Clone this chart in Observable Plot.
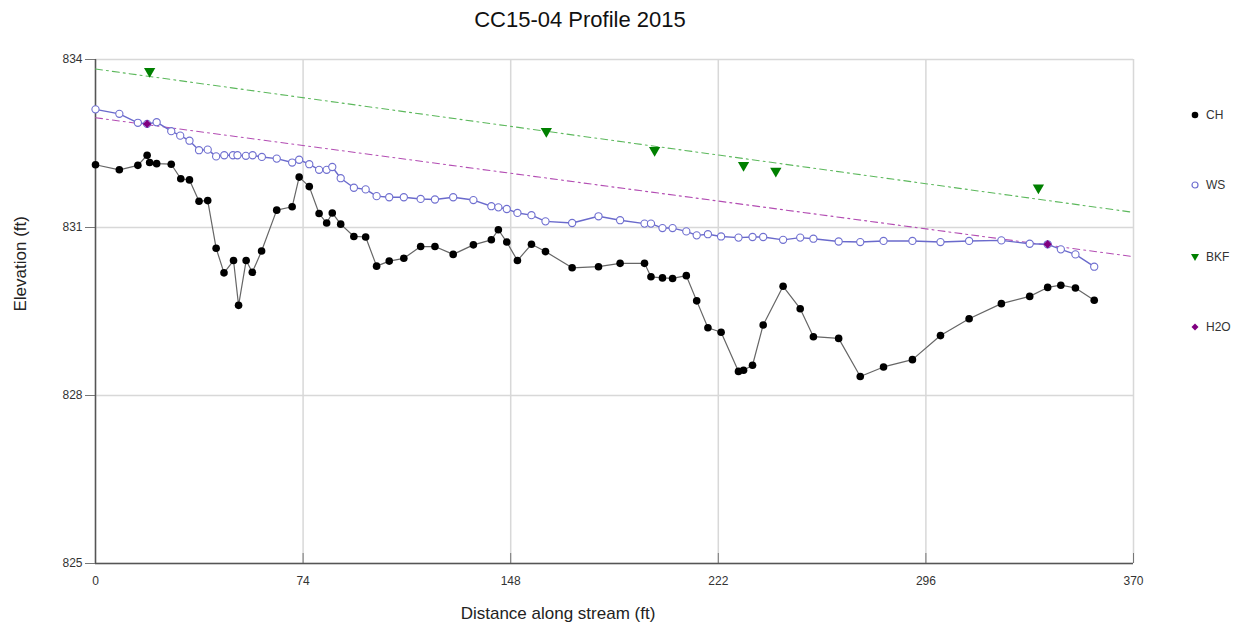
<!DOCTYPE html>
<html>
<head>
<meta charset="utf-8">
<script src="https://cdn.jsdelivr.net/npm/d3@7"></script>
<script src="https://cdn.jsdelivr.net/npm/@observablehq/plot@0.6"></script>
<style>
  body { margin: 0; background: #fff; font-family: "Liberation Sans", Arial, sans-serif; }
  #wrap { position: relative; width: 1235px; height: 629px; }
  #title { position: absolute; left: 0; top: 0; width: 1160px; height: 40px; line-height: 40px; text-align: center; font-size: 22px; color: #111; }
  #chart { position: absolute; left: 0; top: 40px; }
  #xlabel { position: absolute; left: 0; top: 600px; width: 1116px; line-height: 28px; text-align: center; font-size: 17px; color: #222; }
  .leg { position: absolute; left: 1190px; font-size: 12px; color: #333; display: flex; align-items: center; height: 14px; }
  .leg svg { margin-right: 6px; }
</style>
</head>
<body>
<div id="wrap">
  <div id="title">CC15-04 Profile 2015</div>
  <div id="chart"></div>
  <div id="xlabel">Distance along stream (ft)</div>
  <div class="leg" style="top:108px"><svg width="10" height="10"><circle cx="5" cy="5" r="3.3" fill="#000"/></svg>CH</div>
  <div class="leg" style="top:178px"><svg width="10" height="10"><circle cx="5" cy="5" r="3" fill="#fff" stroke="#7070d0" stroke-width="1.2"/></svg>WS</div>
  <div class="leg" style="top:250px"><svg width="10" height="10"><path d="M1,2 L9,2 L5,9 Z" fill="#008000"/></svg>BKF</div>
  <div class="leg" style="top:320px"><svg width="10" height="10"><path d="M5,1.5 L8.5,5 L5,8.5 L1.5,5 Z" fill="#800080"/></svg>H2O</div>
</div>
<script>
// Channel bed (CH)
const chX = [0, 8.5, 15.1, 18.4, 19.3, 21.8, 27.0, 30.4, 33.5, 36.9, 40.0, 43.0, 45.8, 49.2, 51.0, 53.7, 55.9, 59.2, 64.6, 70.1, 72.6, 76.2, 79.7, 82.4, 84.4, 87.4, 92.1, 96.3, 100.2, 104.7, 109.9, 115.9, 121.0, 127.5, 134.7, 141.1, 143.6, 146.6, 150.4, 155.4, 160.4, 169.9, 179.3, 187.0, 195.7, 198.0, 202.1, 205.7, 210.6, 214.3, 218.3, 223.0, 229.2, 231.0, 234.2, 238.0, 245.1, 251.2, 255.9, 264.9, 272.6, 280.9, 291.2, 301.2, 311.4, 322.9, 333.0, 339.4, 344.1, 349.3, 356.0];
const chY = [832.12, 832.03, 832.11, 832.29, 832.16, 832.14, 832.13, 831.87, 831.85, 831.47, 831.48, 830.63, 830.19, 830.41, 829.61, 830.41, 830.20, 830.58, 831.31, 831.37, 831.90, 831.73, 831.25, 831.08, 831.26, 831.06, 830.84, 830.83, 830.31, 830.40, 830.45, 830.66, 830.66, 830.52, 830.69, 830.78, 830.96, 830.74, 830.41, 830.70, 830.57, 830.28, 830.30, 830.36, 830.36, 830.12, 830.10, 830.09, 830.14, 829.69, 829.21, 829.13, 828.43, 828.45, 828.54, 829.26, 829.95, 829.55, 829.05, 829.02, 828.34, 828.51, 828.64, 829.07, 829.37, 829.64, 829.77, 829.93, 829.97, 829.92, 829.70];
// Water surface (WS)
const wsX = [0, 8.5, 15.1, 18.4, 21.8, 27.0, 30.2, 33.5, 36.9, 40.0, 43.0, 45.9, 49.0, 50.6, 53.6, 56.0, 59.3, 64.6, 70.1, 72.6, 76.2, 79.7, 82.4, 84.4, 87.4, 92.1, 96.3, 100.2, 104.7, 109.9, 115.9, 121.0, 127.5, 134.7, 141.1, 143.6, 146.6, 150.4, 155.4, 160.4, 169.9, 179.3, 187.0, 195.7, 198.0, 202.1, 205.7, 210.6, 214.3, 218.3, 223.0, 229.2, 234.2, 238.0, 245.1, 251.2, 255.9, 264.9, 272.6, 280.9, 291.2, 301.2, 311.4, 322.9, 333.0, 339.4, 344.1, 349.3, 356.0];
const wsY = [833.11, 833.03, 832.87, 832.85, 832.88, 832.72, 832.64, 832.55, 832.38, 832.39, 832.27, 832.29, 832.29, 832.29, 832.28, 832.29, 832.26, 832.23, 832.16, 832.21, 832.13, 832.03, 832.03, 832.08, 831.88, 831.71, 831.68, 831.56, 831.54, 831.54, 831.51, 831.50, 831.54, 831.49, 831.38, 831.36, 831.33, 831.26, 831.22, 831.11, 831.08, 831.20, 831.13, 831.07, 831.07, 830.99, 830.99, 830.93, 830.86, 830.88, 830.84, 830.82, 830.83, 830.83, 830.78, 830.82, 830.80, 830.75, 830.74, 830.76, 830.76, 830.74, 830.76, 830.77, 830.71, 830.70, 830.61, 830.52, 830.30];
// Bankfull (BKF)
const bkfX = [19.3, 160.7, 199.3, 231.0, 242.5, 336.1];
const bkfY = [833.79, 832.72, 832.38, 832.11, 832.01, 831.71];
const bkfFitX = [0, 370];
const bkfFitY = [833.83, 831.27];
// Water surface shots (H2O)
const h2oX = [18.4, 339.4];
const h2oY = [832.85, 830.70];
const h2oFitX = [0, 370];
const h2oFitY = [832.96, 830.48];
// Ticks
const xTicks = [0, 74, 148, 222, 296, 370];
const yTicks = [825, 828, 831, 834];

const toRows = (xs, ys) => xs.map((x, i) => ({x, y: ys[i]}));
const ch = toRows(chX, chY), ws = toRows(wsX, wsY), bkf = toRows(bkfX, bkfY), h2o = toRows(h2oX, h2oY);
const bkfFit = toRows(bkfFitX, bkfFitY), h2oFit = toRows(h2oFitX, h2oFitY);

const chart = Plot.plot({
  width: 1235,
  height: 560,
  marginLeft: 95,
  marginRight: 102,
  marginTop: 19,
  marginBottom: 37,
  style: {fontFamily: "Liberation Sans, Arial, sans-serif", fontSize: "12px", color: "#333", background: "#fff"},
  x: {domain: [0, 370]},
  y: {domain: [825, 834]},
  marks: [
    Plot.gridX(xTicks, {stroke: "#d8d8d8", strokeOpacity: 1, strokeWidth: 1.5}),
    Plot.gridY(yTicks, {stroke: "#d8d8d8", strokeOpacity: 1, strokeWidth: 1.5}),
    Plot.axisX(xTicks, {tickSize: -10, tickPadding: 23, tickFormat: d => String(d), stroke: "#777", fill: "#333", fontSize: 12, label: null}),
    Plot.axisY(yTicks, {tickSize: 10, tickPadding: 3, tickFormat: d => String(d), stroke: "#777", fill: "#333", fontSize: 12, label: null}),
    Plot.ruleX([0], {stroke: "#555", strokeWidth: 1.5}),
    Plot.ruleY([825], {stroke: "#555", strokeWidth: 1.5}),
    Plot.text(["Elevation (ft)"], {frameAnchor: "left", rotate: -90, dx: -75, fontSize: 17, fill: "#222"}),
    Plot.line(bkfFit, {x: "x", y: "y", stroke: "#5cb85c", strokeWidth: 1.1, strokeDasharray: "7,4,2,4"}),
    Plot.line(h2oFit, {x: "x", y: "y", stroke: "#b34db3", strokeWidth: 1.1, strokeDasharray: "7,4,2,4"}),
    Plot.line(ch, {x: "x", y: "y", stroke: "#666", strokeWidth: 1.2}),
    Plot.line(ws, {x: "x", y: "y", stroke: "#6a6acc", strokeWidth: 1.4}),
    Plot.dot(ch, {x: "x", y: "y", r: 3.8, fill: "#000", stroke: "none"}),
    Plot.dot(ws, {x: "x", y: "y", r: 3.6, fill: "#fff", stroke: "#6f6fd0", strokeWidth: 1.1}),
    Plot.dot(bkf, {x: "x", y: "y", symbol: "triangle", rotate: 180, r: 4.2, fill: "#008000", stroke: "none"}),
    Plot.dot(h2o, {x: "x", y: "y", symbol: "diamond2", r: 3.8, fill: "#800080", stroke: "none"})
  ]
});
document.getElementById("chart").appendChild(chart);
</script>
</body>
</html>
